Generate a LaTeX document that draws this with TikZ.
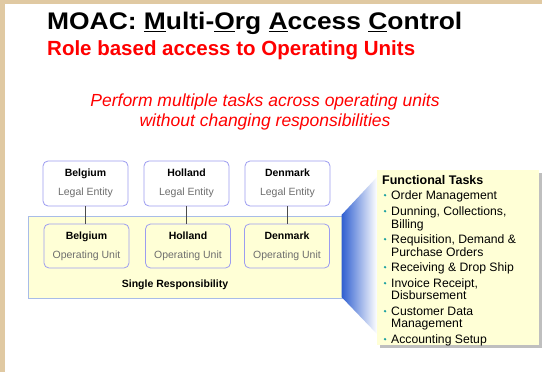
\documentclass[tikz,border=0pt]{standalone}
\usepackage{fontspec}
\setmainfont{Liberation Sans}
\definecolor{tan}{HTML}{E0C9A2}
\definecolor{boxyellow}{HTML}{FFFFD6}
\definecolor{lav}{HTML}{9C9CF0}
\definecolor{ybord}{HTML}{A8BCE8}
\definecolor{titlered}{HTML}{FF0000}
\definecolor{funblue}{HTML}{2F5FD0}
\definecolor{teal}{HTML}{1AA0A0}
\definecolor{lgray}{HTML}{6E6E6E}
\begin{document}
\begin{tikzpicture}[x=1pt,y=-1pt,
  entbox/.style={draw=lav,line width=0.8pt,rounded corners=5pt,minimum width=85pt,minimum height=45pt,align=center,inner sep=0pt,font=\fontsize{10.5}{19}\selectfont},
  link/.style={draw=black!70,line width=0.6pt},
  task/.style={anchor=base west,inner sep=0pt,font=\fontsize{12.2}{13}\selectfont},
  bul/.style={fill=teal,circle,inner sep=0pt,minimum size=2.6pt}
]
\useasboundingbox (0,0) rectangle (542,372);
\fill[white] (0,0) rectangle (542,372);
\fill[tan] (0,0) rectangle (542,3.5);
\fill[tan] (0,0) rectangle (4.5,372);

% titles
\node[anchor=base west,inner sep=0pt,font=\fontsize{24}{28}\selectfont\bfseries] (title) at (47,30)
  {\scalebox{1.1}[1]{MOAC: \underline{M}ulti-\underline{O}rg \underline{A}ccess \underline{C}ontrol}};
\node[anchor=base west,inner sep=0pt,text=titlered,font=\fontsize{20.5}{24}\selectfont\bfseries] (sub) at (47,56)
  {Role based access to Operating Units};
\node[anchor=base,inner sep=0pt,text=titlered,font=\fontsize{17.5}{20}\selectfont\itshape] (perf1) at (265,106)
  {Perform multiple tasks across operating units};
\node[anchor=base,inner sep=0pt,text=titlered,font=\fontsize{17.5}{20}\selectfont\itshape] (perf2) at (265,126)
  {without changing responsibilities};

% yellow responsibility area
\draw[draw=ybord,fill=boxyellow,line width=0.8pt] (28,216) rectangle (342,298);
\node[font=\fontsize{10.5}{12}\selectfont\bfseries,anchor=base] (single) at (175,287) {Single Responsibility};

% funnel
\shade[left color=funblue,right color=white] (341.5,215) -- (377,177) -- (377,334) -- (341.5,297) -- cycle;

% legal entities
\node[entbox,fill=white] (le1) at (85.5,183.5) {\textbf{Belgium}\\{\color{lgray}Legal Entity}};
\node[entbox,fill=white] (le2) at (186.5,183.5) {\textbf{Holland}\\{\color{lgray}Legal Entity}};
\node[entbox,fill=white] (le3) at (287.5,183.5) {\textbf{Denmark}\\{\color{lgray}Legal Entity}};
% operating units
\node[entbox,fill=boxyellow,minimum height=44pt] (ou1) at (86.5,246) {\textbf{Belgium}\\{\color{lgray}Operating Unit}};
\node[entbox,fill=boxyellow,minimum height=44pt] (ou2) at (188,246) {\textbf{Holland}\\{\color{lgray}Operating Unit}};
\node[entbox,fill=boxyellow,minimum height=44pt] (ou3) at (287,246) {\textbf{Denmark}\\{\color{lgray}Operating Unit}};
\draw[link] (le1.south) -- (le1.south |- ou1.north);
\draw[link] (le2.south) -- (le2.south |- ou2.north);
\draw[link] (le3.south) -- (le3.south |- ou3.north);

% functional tasks box
\fill[black!25] (379.5,172.5) rectangle (541.5,347.5);
\fill[boxyellow] (377,170) rectangle (539,345);
\node[task,font=\fontsize{12.5}{14}\selectfont\bfseries] (ft) at (382,184) {Functional Tasks};
\foreach \y/\t [count=\i] in {199/{Order Management},215/{Dunning, Collections,},243/{Requisition, Demand \&},271/{Receiving \& Drop Ship},287/{Invoice Receipt,},315/{Customer Data},343/{Accounting Setup}}{
  \node[bul] (b\i) at (385,\y-3.8) {};
  \node[task] (t\i) at (391,\y) {\t};
}
\node[task] (c2) at (391,228) {Billing};
\node[task] (c3) at (391,256) {Purchase Orders};
\node[task] (c5) at (391,299) {Disbursement};
\node[task] (c6) at (391,327) {Management};
\end{tikzpicture}
\end{document}
